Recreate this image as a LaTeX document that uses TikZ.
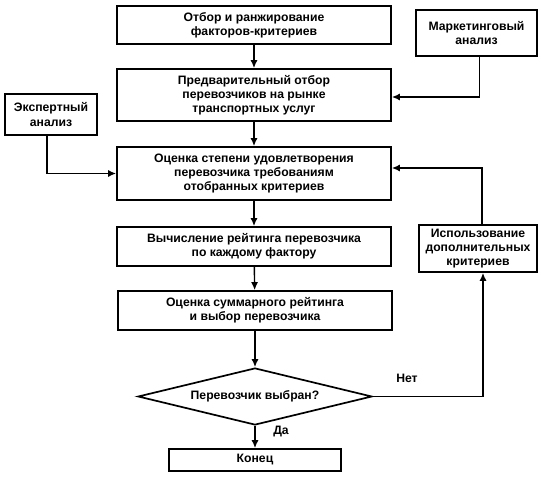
\documentclass[tikz,border=0pt]{standalone}
\usepackage{fontspec}
\setmainfont{Liberation Sans}
\usetikzlibrary{shapes.geometric,arrows.meta}

\tikzset{
    block/.style={draw,
        line width=1.7pt,
        align=center,
        minimum width=274pt,
        inner sep=2pt},
    sidebox/.style={draw,
        line width=1.7pt,
        align=center,
        inner sep=2pt},
    link/.style={line width=1.4pt,
        -{Latex[length=8pt,width=7pt]}}
}

\begin{document}
\begin{tikzpicture}[x=1pt,y=-1pt,
    font=\fontsize{12.2}{14.2}\selectfont\bfseries]
    \useasboundingbox (0,0) rectangle (541,484);

    % Main chain
    \node [block,
        minimum height=38pt] (rank) at (254,25)
        {Отбор и ранжирование\\факторов-критериев};
    \node [block,
        minimum height=52pt] (presel) at (254,95)
        {Предварительный отбор\\перевозчиков на рынке\\транспортных услуг};
    \node [block,
        minimum height=53pt] (assess) at (254,173.5)
        {Оценка степени удовлетворения\\перевозчика требованиям\\отобранных критериев};
    \node [block,
        minimum height=39pt] (rating) at (254,246.5)
        {Вычисление рейтинга перевозчика\\по каждому фактору};
    \node [block,
        minimum height=39pt] (total) at (255,310.5)
        {Оценка суммарного рейтинга\\и выбор перевозчика};

    % Decision
    \node [diamond,
        draw,
        line width=1.7pt,
        aspect=4,
        inner sep=0pt,
        minimum width=234pt,
        minimum height=57pt] (choice) at (255,396.5) {Перевозчик выбран?};
    \node [block,
        minimum width=172pt,
        minimum height=22pt] (finish) at (255,460) {Конец};

    % Side boxes
    \node [sidebox,
        minimum width=121pt,
        minimum height=46pt] (market) at (476.5,33)
        {Маркетинговый\\анализ};
    \node [sidebox,
        minimum width=92pt,
        minimum height=41pt] (expert) at (51,114.5)
        {Экспертный\\анализ};
    \node [sidebox,
        minimum width=118pt,
        minimum height=47pt] (extra) at (478,248.5)
        {Использование\\дополнительных\\критериев};

    % Branch labels
    \node (no) at (407,378) {Нет};
    \node (yes) at (281,432) {Да};

    % Connectors
    \draw[link] (rank) -- (presel);
    \draw[link] (presel) -- (assess);
    \draw[link] (assess) -- (rating);
    \draw[link] (rating) -- (total);
    \draw[link] (total) -- (choice);
    \draw[link] (choice) -- (finish);
    \draw[link] ([xshift=3pt]market.south) |- ([yshift=-2pt]presel.east);
    \draw[link] ([xshift=-4pt]expert.south) |- (assess.west);
    \draw[link] (choice.east) -| ([xshift=5pt]extra.south);
    \draw[link] ([xshift=4pt]extra.north) |- ([yshift=5.5pt]assess.east);
\end{tikzpicture}
\end{document}
